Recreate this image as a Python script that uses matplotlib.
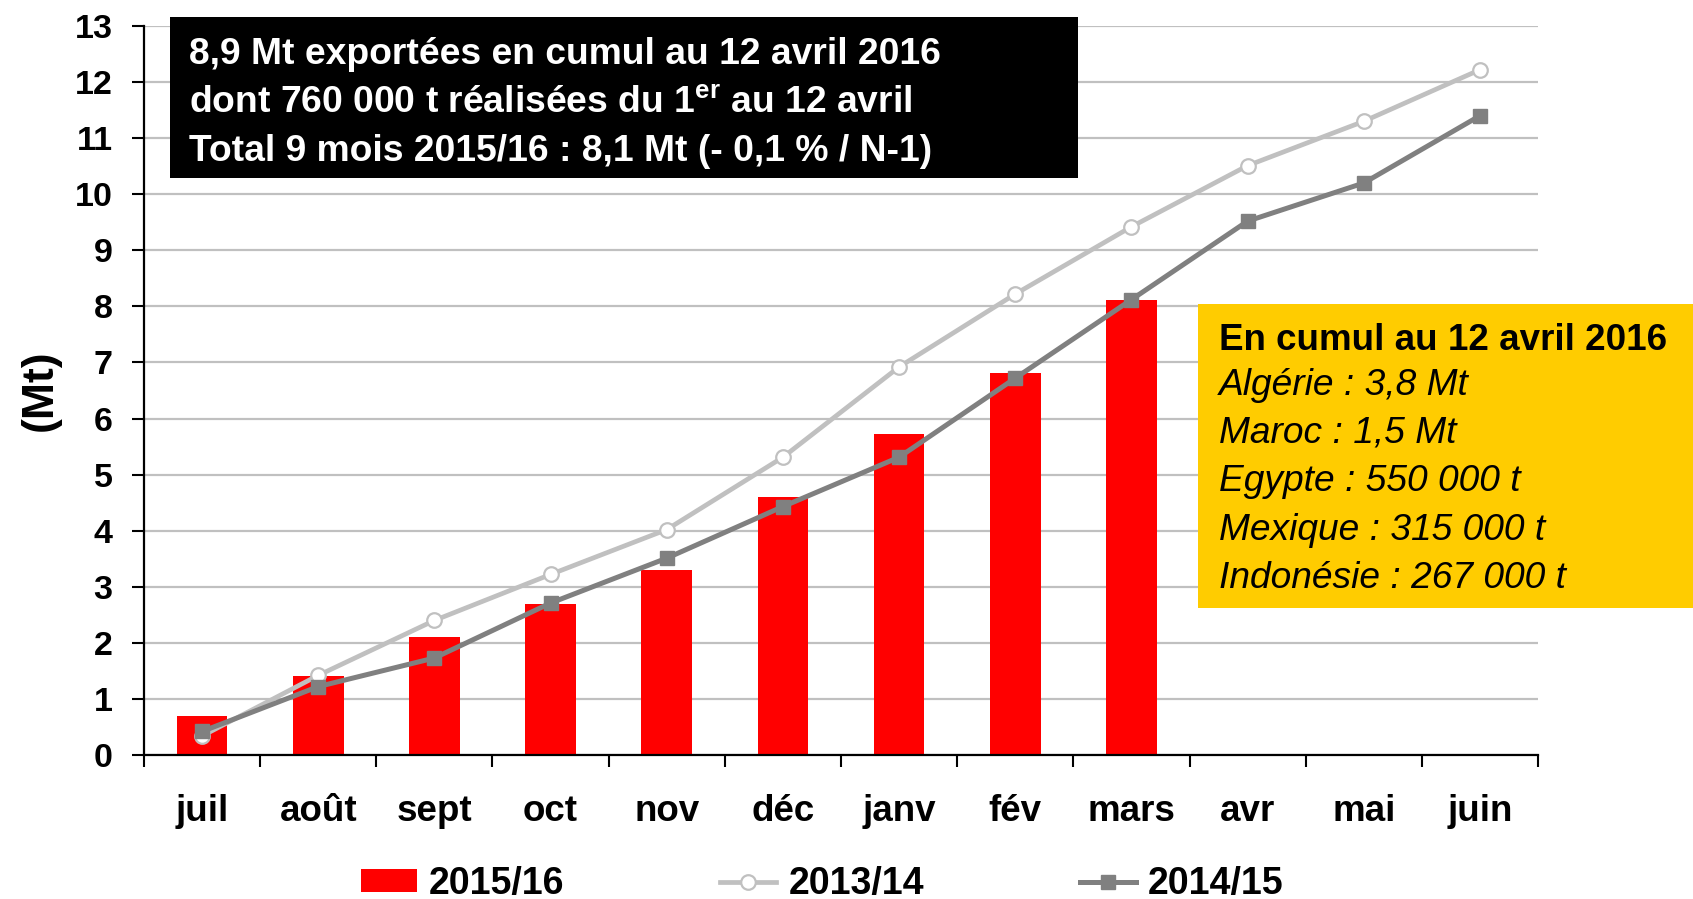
import matplotlib
matplotlib.use("Agg")
import matplotlib.pyplot as plt
from matplotlib.patches import Rectangle, Patch
from matplotlib.lines import Line2D
import numpy as np

plt.rcParams['font.family'] = ['Liberation Sans', 'DejaVu Sans']
plt.rcParams['font.weight'] = 'bold'
plt.rcParams['mathtext.fontset'] = 'custom'
plt.rcParams['mathtext.rm'] = 'Liberation Sans:bold'
plt.rcParams['mathtext.bf'] = 'Liberation Sans:bold'

# ---- data ----
months = ["juil", "août", "sept", "oct", "nov", "déc", "janv", "fév", "mars", "avr", "mai", "juin"]
exports_2015_16 = [0.70, 1.41, 2.10, 2.70, 3.30, 4.60, 5.72, 6.82, 8.11]
exports_2013_14 = [0.34, 1.42, 2.40, 3.22, 4.02, 5.31, 6.92, 8.22, 9.42, 10.51, 11.30, 12.22]
exports_2014_15 = [0.42, 1.22, 1.73, 2.71, 3.51, 4.43, 5.31, 6.72, 8.12, 9.52, 10.20, 11.40]
series_names = ["2015/16", "2013/14", "2014/15"]
yticks = list(range(0, 14))

box1_lines = ["8,9 Mt exportées en cumul au 12 avril 2016",
              "dont 760 000 t réalisées du 1$^{\\mathrm{er}}$ au 12 avril",
              "Total 9 mois 2015/16 : 8,1 Mt (- 0,1 % / N-1)"]
box2_title = "En cumul au 12 avril 2016"
box2_lines = ["Algérie : 3,8 Mt", "Maroc : 1,5 Mt", "Egypte : 550 000 t",
              "Mexique : 315 000 t", "Indonésie : 267 000 t"]

RED = "#FF0000"
LIGHT = "#C0C0C0"
DARK = "#808080"
YELLOW = "#FFCC00"

W, H = 1693, 899
fig = plt.figure(figsize=(W / 100, H / 100), dpi=100)
ax = fig.add_axes([144 / W, 1 - 755 / H, (1538 - 144) / W, (755 - 26) / H])

x_all = np.arange(len(months))
ax.bar(np.arange(len(exports_2015_16)), exports_2015_16, width=0.435, color=RED, zorder=2)
ax.plot(x_all, exports_2013_14, color=LIGHT, lw=3.4, marker='o', ms=10.5,
        mfc='white', mec=LIGHT, mew=1.6, zorder=3)
ax.plot(x_all, exports_2014_15, color=DARK, lw=3.6, marker='s', ms=10.5,
        mfc=DARK, mec=DARK, zorder=4)

ax.set_xlim(-0.5, len(months) - 0.5)
ax.set_ylim(0, 13)
ax.set_yticks(yticks)
ax.set_yticklabels([str(t) for t in yticks], fontsize=24.5, fontweight='bold')
ax.yaxis.grid(True, color="#C0C0C0", lw=1.6, zorder=0)
ax.set_axisbelow(True)

ax.set_xticks(np.arange(len(months) + 1) - 0.5)
ax.set_xticklabels([])
ax.set_xticks(x_all, minor=True)
ax.set_xticklabels(months, minor=True, fontsize=26.5, fontweight='bold')
ax.tick_params(axis='x', which='major', length=8.6, width=1.5, direction='out')
ax.tick_params(axis='x', which='minor', length=0, pad=28)
ax.tick_params(axis='y', length=8.6, width=1.5, pad=14)

for s in ['top', 'right']:
    ax.spines[s].set_visible(False)
for s in ['left', 'bottom']:
    ax.spines[s].set_linewidth(1.6)
    ax.spines[s].set_color('black')

ax.set_ylabel("(Mt)", fontsize=32, fontweight='bold', va='center')
ax.yaxis.set_label_coords((40 - 144) / 1394, 0.5)

# black info box
fig.patches.append(Rectangle((170 / W, 1 - 178 / H), (1077.5 - 170) / W, (178 - 17) / H,
                             transform=fig.transFigure, facecolor='black', edgecolor='none', zorder=5))
for line, base in zip(box1_lines, [64, 113, 161]):
    fig.text(189 / W, 1 - base / H, line, color='white', fontsize=26.8, fontweight='bold',
             va='baseline', ha='left', zorder=6)

# yellow box
fig.patches.append(Rectangle((1198 / W, 1 - 608 / H), (W - 1198) / W, (608 - 304) / H,
                             transform=fig.transFigure, facecolor=YELLOW, edgecolor='none', zorder=5))
fig.text(1219 / W, 1 - 350 / H, box2_title, color='black', fontsize=26.5, fontweight='bold',
         va='baseline', ha='left', zorder=6)
for line, base in zip(box2_lines, [395, 443, 491, 540, 588]):
    fig.text(1219 / W, 1 - base / H, line, color='black', fontsize=26.7, fontweight='normal',
             style='italic', va='baseline', ha='left', zorder=6)

# legend
handles = [Patch(facecolor=RED, edgecolor='none'),
           Line2D([], [], color=LIGHT, lw=3.4, marker='o', ms=10.5, mfc='white', mec=LIGHT, mew=1.6),
           Line2D([], [], color=DARK, lw=3.6, marker='s', ms=10.5, mfc=DARK, mec=DARK)]
fig.legend(handles, series_names, loc='center', bbox_to_anchor=(822 / W, 1 - 884 / H),
           ncol=3, frameon=False, prop={'size': 27, 'weight': 'bold'},
           handlelength=1.5, handletextpad=0.32, columnspacing=4.15, borderpad=0,
           handleheight=0.58)

fig.savefig("out.png", dpi=100)
